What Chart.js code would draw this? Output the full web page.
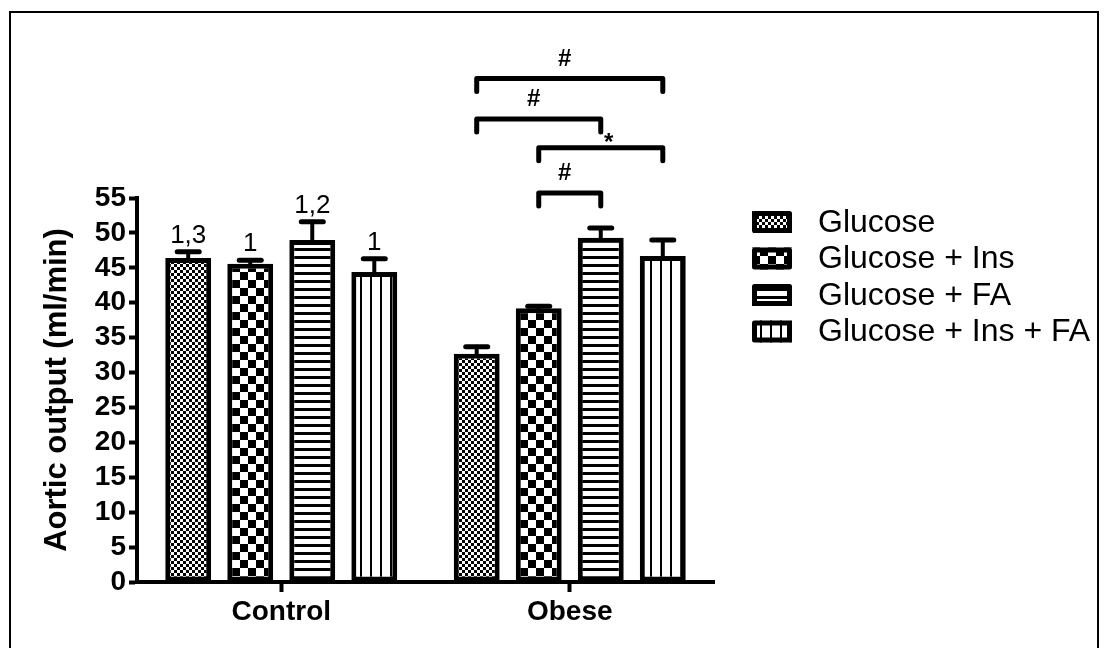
<!DOCTYPE html>
<html>
<head>
<meta charset="utf-8">
<script src="https://cdn.jsdelivr.net/npm/chart.js@4/dist/chart.umd.min.js"></script>
<style>
  html, body { margin: 0; padding: 0; background: #fff; }
  #wrap { width: 1106px; height: 648px; position: relative; }
</style>
</head>
<body>
<div id="wrap"><canvas id="grafico" width="1106" height="648"></canvas></div>
<script>
// dados
const categorias = ['Control', 'Obese'];
const rotulosSeries = ['Glucose', 'Glucose + Ins', 'Glucose + FA', 'Glucose + Ins + FA'];
const glicose = [46.4, 32.7];
const glicoseIns = [45.6, 39.2];
const glicoseFA = [49.0, 49.3];
const glicoseInsFA = [44.4, 46.7];
const erroGlicose = [0.9, 1.0];
const erroGlicoseIns = [0.5, 0.3];
const erroGlicoseFA = [2.6, 1.4];
const erroGlicoseInsFA = [1.9, 2.3];
const ticksY = [0, 5, 10, 15, 20, 25, 30, 35, 40, 45, 50, 55];
// marcas sobre as barras do grupo Control
const marcasControl = ['1,3', '1', '1,2', '1'];
// colchetes de significancia (grupo Obese), nivel em ml/min
const colchetes = [
  { cat: 1, de: 0, ate: 3, nivel: 72.1, texto: '#' },
  { cat: 1, de: 0, ate: 2, nivel: 66.3, texto: '#' },
  { cat: 1, de: 1, ate: 3, nivel: 62.2, texto: '*' },
  { cat: 1, de: 1, ate: 2, nivel: 55.7, texto: '#' }
];

function padrao(w, h, desenha) {
  const c = document.createElement('canvas');
  c.width = w; c.height = h;
  const g = c.getContext('2d');
  g.fillStyle = '#fff';
  g.fillRect(0, 0, w, h);
  g.fillStyle = '#000';
  desenha(g);
  return document.getElementById('grafico').getContext('2d').createPattern(c, 'repeat');
}

const xadrezFino = padrao(6, 6, g => { g.fillRect(0, 0, 3, 3); g.fillRect(3, 3, 3, 3); });
const xadrezGrosso = padrao(16, 16, g => { g.fillRect(0, 0, 8, 8); g.fillRect(8, 8, 8, 8); });
const listrasH = padrao(8, 8, g => { g.fillRect(0, 0, 8, 3); });
const listrasV = padrao(10, 10, g => { g.fillRect(0, 0, 2, 10); });

const FONTE = "'Liberation Sans', Arial, sans-serif";

const barrasErro = {
  id: 'barrasErro',
  afterDatasetsDraw(chart) {
    const ctx = chart.ctx;
    const y = chart.scales.y;
    ctx.save();
    ctx.strokeStyle = '#000';
    ctx.lineCap = 'round';
    chart.data.datasets.forEach((ds, i) => {
      const meta = chart.getDatasetMeta(i);
      meta.data.forEach((bar, j) => {
        const topo = y.getPixelForValue(ds.data[j] + ds.erros[j]);
        ctx.lineWidth = 4;
        ctx.beginPath();
        ctx.moveTo(bar.x, bar.y);
        ctx.lineTo(bar.x, topo);
        ctx.stroke();
        ctx.lineWidth = 5;
        ctx.beginPath();
        ctx.moveTo(bar.x - 11, topo);
        ctx.lineTo(bar.x + 11, topo);
        ctx.stroke();
        if (j === 0 && marcasControl[i]) {
          ctx.fillStyle = '#000';
          ctx.font = '26px ' + FONTE;
          ctx.textAlign = 'center';
          ctx.textBaseline = 'alphabetic';
          ctx.fillText(marcasControl[i], bar.x, topo - 9);
        }
      });
    });
    ctx.restore();
  }
};

const colchetesSig = {
  id: 'colchetesSig',
  afterDatasetsDraw(chart) {
    const ctx = chart.ctx;
    const y = chart.scales.y;
    ctx.save();
    ctx.strokeStyle = '#000';
    ctx.fillStyle = '#000';
    ctx.lineWidth = 5;
    ctx.lineCap = 'round';
    ctx.lineJoin = 'round';
    colchetes.forEach(c => {
      const x1 = chart.getDatasetMeta(c.de).data[c.cat].x;
      const x2 = chart.getDatasetMeta(c.ate).data[c.cat].x;
      const yl = y.getPixelForValue(c.nivel);
      ctx.beginPath();
      ctx.moveTo(x1, yl + 13);
      ctx.lineTo(x1, yl);
      ctx.lineTo(x2, yl);
      ctx.lineTo(x2, yl + 13);
      ctx.stroke();
      ctx.font = 'bold 24px ' + FONTE;
      ctx.textAlign = 'center';
      ctx.textBaseline = 'alphabetic';
      if (c.texto === '*') {
        ctx.fillText(c.texto, (x1 + x2) / 2 + 8, yl + 2);
      } else {
        ctx.fillText(c.texto, (x1 + x2) / 2 - 5, yl - 13);
      }
    });
    ctx.restore();
  }
};

const legendaPropria = {
  id: 'legendaPropria',
  afterDraw(chart) {
    const ctx = chart.ctx;
    ctx.save();
    chart.data.datasets.forEach((ds, i) => {
      const meio = 222 + i * 36.5;
      ctx.fillStyle = ds.backgroundColor;
      ctx.fillRect(752, meio - 11, 40, 22);
      ctx.strokeStyle = '#000';
      ctx.lineWidth = 5;
      ctx.lineJoin = 'round';
      ctx.strokeRect(754.5, meio - 8.5, 35, 17);
      ctx.fillStyle = '#000';
      ctx.font = '32px ' + FONTE;
      ctx.textAlign = 'left';
      ctx.textBaseline = 'middle';
      ctx.fillText(ds.label, 818, meio + 1);
    });
    ctx.restore();
  }
};

const moldura = {
  id: 'moldura',
  afterDraw(chart) {
    const ctx = chart.ctx;
    ctx.save();
    ctx.strokeStyle = '#000';
    ctx.lineWidth = 2;
    ctx.beginPath();
    ctx.moveTo(10, 648);
    ctx.lineTo(10, 12);
    ctx.lineTo(1098, 12);
    ctx.lineTo(1098, 648);
    ctx.stroke();
    ctx.restore();
  }
};

const series = [
  { dados: glicose, erros: erroGlicose, fundo: xadrezFino },
  { dados: glicoseIns, erros: erroGlicoseIns, fundo: xadrezGrosso },
  { dados: glicoseFA, erros: erroGlicoseFA, fundo: listrasH },
  { dados: glicoseInsFA, erros: erroGlicoseInsFA, fundo: listrasV }
];

new Chart(document.getElementById('grafico'), {
  type: 'bar',
  data: {
    labels: categorias,
    datasets: series.map((s, i) => ({
      label: rotulosSeries[i],
      data: s.dados,
      erros: s.erros,
      backgroundColor: s.fundo,
      borderColor: '#000',
      borderWidth: 5,
      borderSkipped: false,
      categoryPercentage: 0.86,
      barPercentage: 0.74
    }))
  },
  options: {
    responsive: false,
    animation: false,
    layout: { padding: { top: 198, right: 392, left: 0, bottom: 0 } },
    plugins: {
      legend: { display: false },
      tooltip: { enabled: false }
    },
    scales: {
      x: {
        afterFit(scale) { scale.height = 66; },
        border: { color: '#000', width: 4 },
        grid: { offset: false, drawOnChartArea: false, tickLength: 10, tickWidth: 4, tickColor: '#000' },
        ticks: { color: '#000', padding: 3, font: { family: FONTE, size: 28, weight: 'bold' } }
      },
      y: {
        min: 0,
        max: 55,
        afterFit(scale) { scale.width = 137; },
        afterBuildTicks(scale) { scale.ticks = ticksY.map(v => ({ value: v })); },
        border: { color: '#000', width: 4 },
        grid: { drawOnChartArea: false, tickLength: 8, tickWidth: 4, tickColor: '#000' },
        ticks: { color: '#000', padding: 3, autoSkip: false, font: { family: FONTE, size: 28, weight: 'bold' } },
        title: {
          display: true,
          text: 'Aortic output (ml/min)',
          color: '#000',
          padding: { top: 39, bottom: 0 },
          font: { family: FONTE, size: 31, weight: 'bold' }
        }
      }
    }
  },
  plugins: [barrasErro, colchetesSig, legendaPropria, moldura]
});
</script>
</body>
</html>
